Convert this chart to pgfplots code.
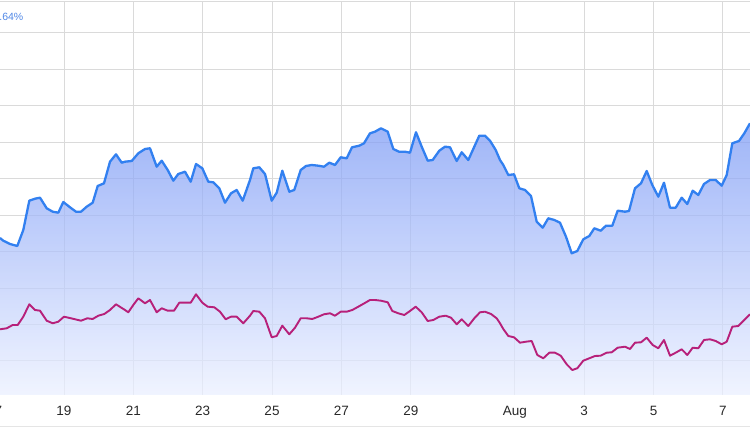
\documentclass[border=0pt]{standalone}
\usepackage{fontspec}
\setmainfont{Liberation Sans}
\usepackage{pgfplots}
\pgfplotsset{compat=1.18}
\definecolor{lineblue}{RGB}{50,128,240}
\definecolor{linemag}{RGB}{183,32,122}
\definecolor{filltop}{RGB}{125,155,245}
\definecolor{fillbot}{RGB}{235,240,255}
\definecolor{gridgray}{RGB}{218,218,218}
\definecolor{labelgray}{RGB}{40,40,40}
\definecolor{pctblue}{RGB}{80,135,230}

\begin{document}
\begin{tikzpicture}
% 1pt = 1px of the 750x430 reference; x is position along time, y is height above the baseline
\begin{axis}[
scale only axis,
width=750pt, height=393pt,
at={(0pt,35pt)}, anchor=south west,
xmin=0, xmax=750, ymin=0, ymax=393,
axis line style={draw=none},
major tick length=0pt,
xtick={64,133.3,202.7,272,341.4,410.8,514.8,584.2,653.5,722.9},
xticklabels={19,21,23,25,27,29,Aug,3,5,7},
ytick={34,70.4,106.9,143.3,179.8,216.2,252.7,289.1,325.6,362},
yticklabels={},
grid=major,
grid style={gridgray, line width=1pt},
xticklabel style={anchor=base, yshift=-20.5pt, font=\fontsize{13.5}{16}\selectfont, text=labelgray},
line join=round,
]
\addplot[draw=none, fill opacity=0.74, top color=filltop, bottom color=fillbot] coordinates {
(0,157) (3.3,154.3) (10,151) (17.3,149) (23.3,165) (29.3,194.3) (35,196.3) (40,197.3)
(46.7,186.7) (52.7,183.3) (58.3,182.3) (63.3,193) (70,187.7) (76,183.3) (81,183.3) (86.7,188.3)
(92.7,192.3) (97.7,209) (104,211.7) (110,233.3) (116,240.7) (121.7,232.3) (125,233.3) (131.7,234)
(138.3,241.7) (145,246) (150,246.7) (156.7,228.3) (161.7,234.3) (167.7,225) (173.3,214.3) (178.3,221)
(185,223.3) (190.7,213.3) (196,231) (202.3,226.7) (208.3,213.3) (213.3,212.7) (219.3,206.7) (225,192.3)
(231,201.7) (236.7,205) (242.7,194.3) (250,215) (253.3,226.7) (259.3,227.7) (265,221) (271.7,194.3)
(276.7,202.3) (282.3,224.3) (289.3,203.3) (294.3,205) (300.7,225) (306,229) (311.7,230) (318.3,229.3)
(324,228.3) (329.3,232.3) (335,230) (340.7,237.7) (346.7,236.7) (352,247.7) (359.3,249.3) (364,251.7)
(370,261.7) (375,263.3) (381,266.7) (387.7,263.3) (393.3,246) (399,243.3) (405,243.3) (410,242.3)
(416,262.7) (421.7,248.3) (427.7,234.3) (432.7,235) (439.3,244.3) (445,248.3) (450,247.7) (456.7,234)
(461.7,242.7) (468.3,235) (474.3,248.3) (479.3,259.3) (485,259.3) (490,254.3) (495.7,245) (500,235)
(503.3,230) (508.3,220) (514,220.7) (519.3,206.7) (525,205) (531,199) (536.7,173.3) (542.7,167.3)
(548.3,176.7) (554.3,175) (560,172.3) (566,158.3) (571.7,141.7) (577.3,144) (583.3,155.7) (589.3,159)
(594.3,166.7) (600.7,164.3) (606,169.3) (612.3,169.3) (617.7,184.3) (625,183.3) (629,184) (635,206.7)
(641,211.7) (646.7,224) (652.3,210) (658.3,198.3) (664,212.3) (670,187.3) (675.7,187.3) (681.7,197.3)
(687.3,191) (692.7,204.3) (698.3,200) (704,211) (710,215) (715.7,215) (721.7,209.3) (726.7,220)
(732.3,251.7) (739,254) (744.3,261.7) (750,271.7)
} \closedcycle;
\addplot[lineblue, line width=2.3pt, mark=none] coordinates {
(0,157) (3.3,154.3) (10,151) (17.3,149) (23.3,165) (29.3,194.3) (35,196.3) (40,197.3)
(46.7,186.7) (52.7,183.3) (58.3,182.3) (63.3,193) (70,187.7) (76,183.3) (81,183.3) (86.7,188.3)
(92.7,192.3) (97.7,209) (104,211.7) (110,233.3) (116,240.7) (121.7,232.3) (125,233.3) (131.7,234)
(138.3,241.7) (145,246) (150,246.7) (156.7,228.3) (161.7,234.3) (167.7,225) (173.3,214.3) (178.3,221)
(185,223.3) (190.7,213.3) (196,231) (202.3,226.7) (208.3,213.3) (213.3,212.7) (219.3,206.7) (225,192.3)
(231,201.7) (236.7,205) (242.7,194.3) (250,215) (253.3,226.7) (259.3,227.7) (265,221) (271.7,194.3)
(276.7,202.3) (282.3,224.3) (289.3,203.3) (294.3,205) (300.7,225) (306,229) (311.7,230) (318.3,229.3)
(324,228.3) (329.3,232.3) (335,230) (340.7,237.7) (346.7,236.7) (352,247.7) (359.3,249.3) (364,251.7)
(370,261.7) (375,263.3) (381,266.7) (387.7,263.3) (393.3,246) (399,243.3) (405,243.3) (410,242.3)
(416,262.7) (421.7,248.3) (427.7,234.3) (432.7,235) (439.3,244.3) (445,248.3) (450,247.7) (456.7,234)
(461.7,242.7) (468.3,235) (474.3,248.3) (479.3,259.3) (485,259.3) (490,254.3) (495.7,245) (500,235)
(503.3,230) (508.3,220) (514,220.7) (519.3,206.7) (525,205) (531,199) (536.7,173.3) (542.7,167.3)
(548.3,176.7) (554.3,175) (560,172.3) (566,158.3) (571.7,141.7) (577.3,144) (583.3,155.7) (589.3,159)
(594.3,166.7) (600.7,164.3) (606,169.3) (612.3,169.3) (617.7,184.3) (625,183.3) (629,184) (635,206.7)
(641,211.7) (646.7,224) (652.3,210) (658.3,198.3) (664,212.3) (670,187.3) (675.7,187.3) (681.7,197.3)
(687.3,191) (692.7,204.3) (698.3,200) (704,211) (710,215) (715.7,215) (721.7,209.3) (726.7,220)
(732.3,251.7) (739,254) (744.3,261.7) (750,271.7)
};
\addplot[linemag, line width=1.9pt, mark=none] coordinates {
(0,65.7) (6.7,66.7) (12.7,70) (17.7,70) (23.3,78.3) (29.3,90.7) (35,85) (40,84.3)
(46.7,74.3) (52.7,71.7) (58.3,73.3) (64,78.3) (71,76.7) (81,74.3) (87.3,76.7) (92.7,76)
(98.3,79.3) (104.3,81) (110,85) (116,90.7) (120.7,87.7) (125,85) (128.3,82.7) (133.3,90)
(138.3,96.7) (145,91.7) (150,95) (156.7,82.7) (161.7,86.7) (167.7,84.3) (174,84.3) (179.3,92.3)
(185.7,92.3) (190.7,92.3) (196,100.7) (202.3,92.3) (207.7,88.3) (214.3,87.7) (220,83.3) (225.7,75.7)
(231,78.3) (236.7,78.3) (243.3,71.7) (250,79.3) (253.3,84) (259.3,83.3) (265,76.7) (271.7,57.7)
(276.7,59) (282.3,69.3) (289.3,60.7) (295,67.3) (300.7,76.7) (306.7,76.7) (312.3,76) (318.3,78.3)
(324,80.7) (330,81.7) (335,79.3) (340.7,83.3) (346.7,83.3) (352.3,85) (358.3,88.3) (364.3,91.7)
(370,95) (375,95) (381,94.3) (387.7,92.7) (392.3,84) (398.3,81.7) (404.3,80) (410,84)
(415.7,88.3) (421.7,82.7) (427.7,74) (433.3,75) (439.3,78.3) (445.7,79.3) (451,77.3) (456.7,70.7)
(461.7,75.7) (468.3,69) (474.3,76.7) (480,82.7) (485,83.3) (491,81) (496.7,76.7) (500,71.7)
(503.3,66) (508.3,59) (514,57.7) (520,52.3) (526,53.3) (531.7,54) (537.3,40) (543.3,36.7)
(549.3,42.3) (555,42.3) (560.7,39.3) (566.7,30.7) (572.3,25) (577.3,26.7) (583.3,34.3) (589.3,36.7)
(595,39) (600.7,39.3) (606.7,42.3) (611.7,42.7) (617.7,47.3) (625,48.3) (630,46) (635,52.3)
(641,52.7) (646.7,57.3) (652.7,50) (658.3,46.7) (664,55) (670,39.3) (675.7,42.3) (681.7,45.7)
(687.3,40) (692.7,47.3) (698.3,46.7) (704,55) (710,55.7) (715.7,54) (721.7,50.7) (726.7,53.3)
(732.3,68.3) (738.3,69) (744.3,75) (750,80.7)
};
\end{axis}
% label of the first day, mostly cut off by the left edge
\node[anchor=base, font=\fontsize{13.5}{16}\selectfont, text=labelgray] at (-5.4pt,14.5pt) {17};
% partly hidden change figure at top left
\node[anchor=base east, font=\fontsize{10.5}{12}\selectfont, text=pctblue, inner sep=0pt] at (23.5pt,409.5pt) {1.64\%};
% frame lines at top and bottom
\draw[gridgray, line width=1pt] (0pt,428.5pt) -- (750pt,428.5pt);
\draw[gridgray!70, line width=1pt] (0pt,3pt) -- (750pt,3pt);
\pgfresetboundingbox
\path[use as bounding box] (0pt,0pt) rectangle (750pt,430pt);
\end{tikzpicture}
\end{document}
